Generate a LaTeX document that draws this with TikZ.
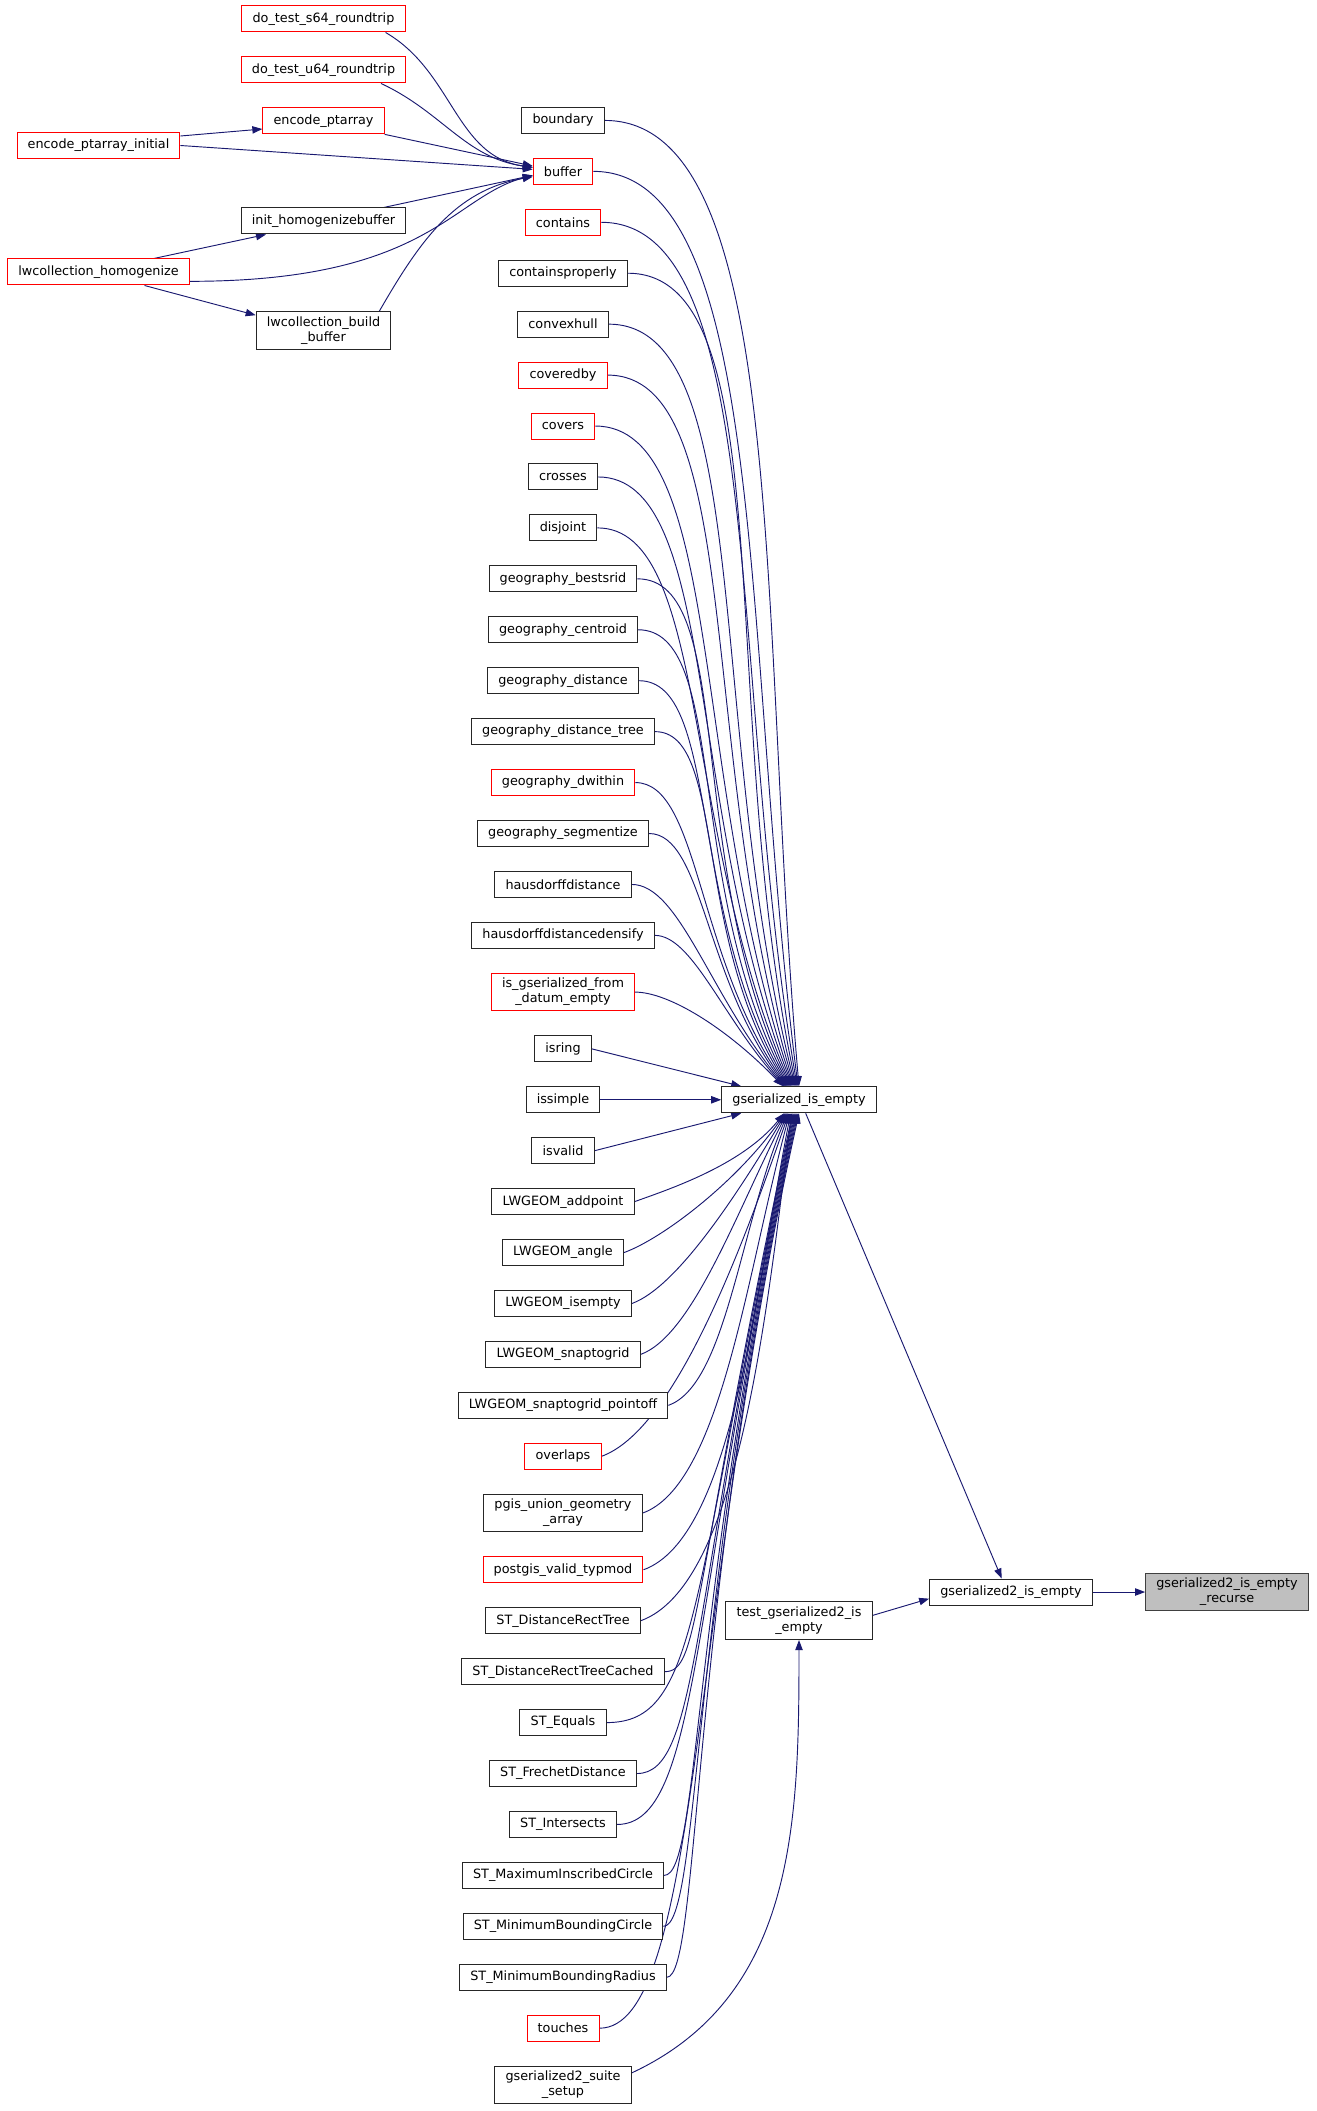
\documentclass[tikz,border=0pt]{standalone}
\usepackage{fontspec}
\setmainfont{DejaVu Sans}
\usepackage{xcolor}
\usepackage{tikz}
\usetikzlibrary{positioning, arrows.meta}
\definecolor{edgeblue}{HTML}{191970}
\pgfdeclarelayer{back}
\pgfsetlayers{back,main}

\begin{document}
\begin{tikzpicture}[
  x=0.75pt, y=0.75pt,
  node distance=17.95pt,
  every node/.style={draw=black!85, fill=white, line width=0.75pt, align=center,
    font=\fontsize{9.6}{11.25}\selectfont, inner xsep=8pt, inner ysep=3.7pt,
    minimum height=19.5pt},
  plain/.style={},
  trunc/.style={draw=red},
  focus/.style={fill=black!25, draw=black!75},
  call/.style={draw=edgeblue, line width=0.7pt, -{Triangle[length=7.5pt, width=5.5pt]}},
  fanup/.style={out=0, out looseness=0.48, in looseness=1.2},
  fandown/.style={out=20, out looseness=0.5, in looseness=1.0}
]
\useasboundingbox (0,0) rectangle (1316,-2111);

% callers of gserialized_is_empty, one column
\coordinate (n0) at (563,-83);
\foreach \lbl/\sty [count=\i, remember=\i as \j (initially 0)] in {
    boundary/plain, buffer/trunc, contains/trunc, containsproperly/plain,
    convexhull/plain, coveredby/trunc, covers/trunc, crosses/plain,
    disjoint/plain, geography\_bestsrid/plain, geography\_centroid/plain,
    geography\_distance/plain, geography\_distance\_tree/plain,
    geography\_dwithin/trunc, geography\_segmentize/plain,
    hausdorffdistance/plain, hausdorffdistancedensify/plain,
    {is\_gserialized\_from\\\_datum\_empty}/trunc, isring/plain,
    issimple/plain, isvalid/plain, LWGEOM\_addpoint/plain,
    LWGEOM\_angle/plain, LWGEOM\_isempty/plain, LWGEOM\_snaptogrid/plain,
    LWGEOM\_snaptogrid\_pointoff/plain, overlaps/trunc,
    {pgis\_union\_geometry\\\_array}/plain, postgis\_valid\_typmod/trunc,
    ST\_DistanceRectTree/plain, ST\_DistanceRectTreeCached/plain,
    ST\_Equals/plain, ST\_FrechetDistance/plain, ST\_Intersects/plain,
    ST\_MaximumInscribedCircle/plain, ST\_MinimumBoundingCircle/plain,
    ST\_MinimumBoundingRadius/plain, touches/trunc,
    {gserialized2\_suite\\\_setup}/plain}
  \node[\sty, below=of n\j] (n\i) {\lbl};

% callers of buffer
\node[trunc] (dts64) at (323.5,-19) {do\_test\_s64\_roundtrip};
\node[trunc, below=of dts64] (dtu64) {do\_test\_u64\_roundtrip};
\node[trunc, below=of dtu64] (enc) {encode\_ptarray};
\node[trunc] (enci) at (98.5,-145.5) {encode\_ptarray\_initial};
\node[plain] (inith) at (323.5,-221) {init\_homogenizebuffer};
\node[trunc] (lwch) at (98.5,-272) {lwcollection\_homogenize};
\node[plain] (lwcb) at (323.5,-330.5) {lwcollection\_build\\\_buffer};

% the called chain
\coordinate (gx) at (799,0);
\coordinate (px) at (700,0);
\node[plain] (gse) at (n20 -| gx) {gserialized\_is\_empty};
\node[plain] (test) at (n30 -| gx) {test\_gserialized2\_is\\\_empty};
\node[plain] (g2e) at (1011,-1592) {gserialized2\_is\_empty};
\node[focus] (rec) at (1227,-1592) {gserialized2\_is\_empty\\\_recurse};

\begin{pgfonlayer}{back}
\foreach \i [evaluate=\i as \ang using 95+(\i-1)*2.3,
             evaluate=\i as \sh using -(\i-1)*0.7] in {1,...,18}
  \draw[call] (n\i.east) to[fanup, in=\ang] ([xshift=\sh pt]gse.north);
\draw[call] (n19.east) -- ([xshift=15pt]gse.north west);
\draw[call] (n20.east) -- (gse.west);
\draw[call] (n21.east) -- ([xshift=15pt]gse.south west);
\foreach \i [evaluate=\i as \ang using -97-(30-\i)*4,
             evaluate=\i as \sh using -(38-\i)*0.7] in {22,...,30}
  \draw[call] (n\i.east) to[fandown, in=\ang] ([xshift=\sh pt]gse.south);
% the lowest ones pass left of the test box
\foreach \i [evaluate=\i as \sh using -(38-\i)*0.7] in {31,...,38}
  \draw[call] (n\i.east) .. controls (n\i.east -| px) and (690,-1600) .. ([xshift=\sh pt]gse.south);

\draw[call] ([xshift=-15pt]dts64.south east) to[out=-30, in=172] ([yshift=3pt]n2.west);
\draw[call] ([xshift=-19pt]dtu64.south east) to[out=-25, in=172] ([yshift=3pt]n2.west);
\draw[call] (enc.south east) -- ([yshift=4pt]n2.west);
\draw[call] ([yshift=-3pt]enci.north east) -- ([yshift=4pt]enc.south west);
\draw[call] (enci.east) -- ([yshift=1.5pt]n2.west);
\draw[call] ([xshift=-17pt]inith.north east) -- ([yshift=-3pt]n2.west);
\draw[call] ([xshift=-27pt]lwch.north east) -- ([xshift=19pt]inith.south west);
\draw[call] ([yshift=-7pt]lwch.east) to[out=0, in=195, out looseness=1.7, in looseness=0.6] ([yshift=-3pt]n2.west);
\draw[call] ([xshift=-34pt]lwch.south east) -- ([yshift=-3pt]lwcb.north west);
\draw[call] ([xshift=-9pt]lwcb.north east) to[out=60, in=190] ([yshift=-4pt]n2.west);

\draw[call] ([xshift=5pt]gse.south) -- ([xshift=-7pt]g2e.north);
\draw[call] ([yshift=4pt]test.east) -- ([yshift=-5pt]g2e.west);
\draw[call] (g2e.east) -- (rec.west);
\draw[call] ([yshift=9pt]n39.east) to[out=25, in=-90] (test.south);
\end{pgfonlayer}
\end{tikzpicture}
\end{document}
